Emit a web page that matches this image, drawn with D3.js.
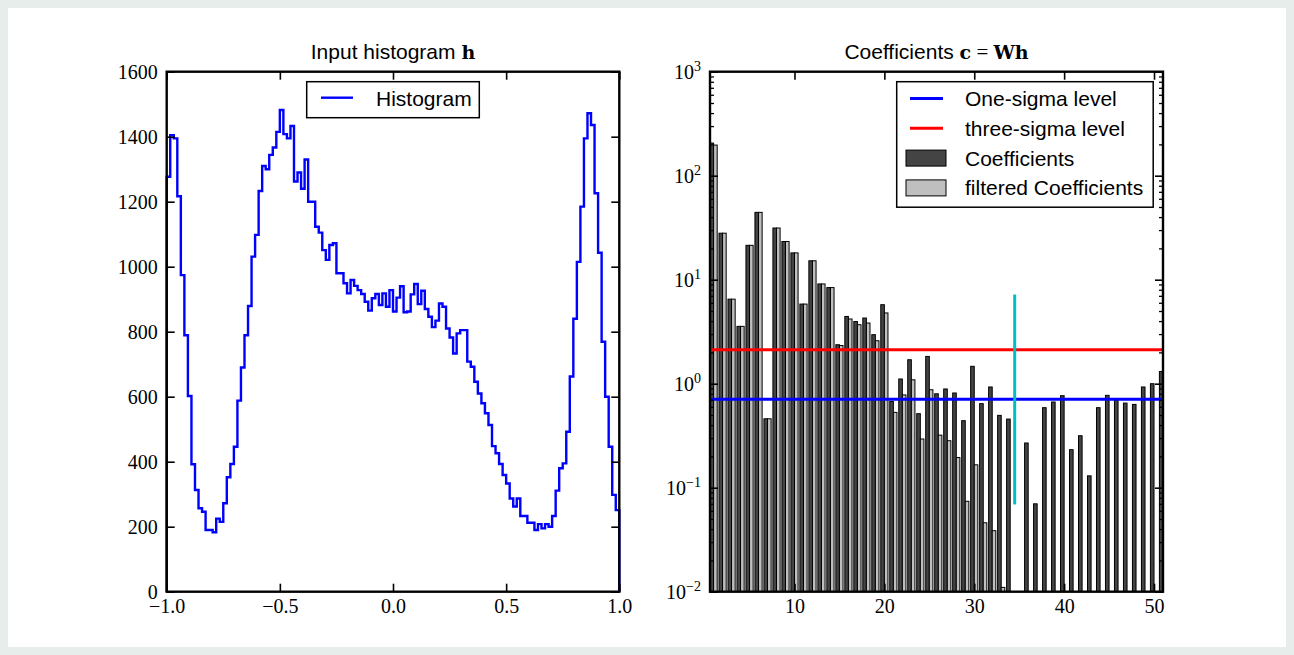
<!DOCTYPE html>
<html>
<head>
<meta charset="utf-8">
<script src="https://cdn.jsdelivr.net/npm/d3@7"></script>
<style>
  html, body { margin: 0; padding: 0; background: #e7edeb; }
  #card { position: absolute; left: 8px; top: 8px; width: 1278px; height: 639px; background: #ffffff; }
  svg { position: absolute; left: 0; top: 0; }
  .sans { font-family: "Liberation Sans", Arial, sans-serif; }
  .serif { font-family: "Liberation Serif", "DejaVu Serif", serif; }
  .math { font-family: "DejaVu Serif", "Liberation Serif", serif; }
</style>
</head>
<body>
<div id="card"></div>
<svg id="chart" width="1294" height="655"></svg>
<script>
// ---- Input histogram: 128 equal bins on [-1, 1] ----
const histRange = [-1, 1];
const histBinCount = 128;
const histCounts = [
  1277, 1405, 1395, 1217, 974, 789, 602, 392, 313, 257, 246, 190, 190, 183, 225, 215,
  272, 352, 393, 446, 588, 690, 789, 879, 1031, 1098, 1233, 1310, 1300, 1344, 1367, 1415,
  1482, 1408, 1395, 1433, 1262, 1290, 1240, 1330, 1200, 1200, 1123, 1105, 1051, 1021, 1067, 1072,
  980, 980, 949, 918, 959, 941, 928, 916, 892, 865, 903, 916, 882, 918, 877, 928,
  862, 905, 940, 860, 862, 915, 947, 885, 926, 870, 846, 814, 834, 887, 877, 810,
  782, 733, 795, 805, 805, 708, 692, 646, 610, 580, 549, 513, 448, 426, 393, 359,
  333, 287, 262, 287, 233, 233, 212, 212, 190, 208, 195, 208, 200, 233, 311, 380,
  395, 492, 662, 840, 1015, 1185, 1395, 1472, 1436, 1226, 1043, 769, 600, 446, 298, 251
];
const histXTicks = [-1, -0.5, 0, 0.5, 1];
const histYTicks = [0, 200, 400, 600, 800, 1000, 1200, 1400, 1600];

// ---- Wavelet coefficients (index 1..51) ----
const coefIndex = d3.range(1, 52);
const coefValues = [
  206, 28, 6.5, 3.56, 21.4, 44.4, 0.46, 31.4, 23.3, 18.1, 5.83, 15.2, 9.1, 8.4, 2.37, 4.43,
  3.96, 4.28, 2.96, 5.75, 0.676, 1.11, 1.70, 0.515, 1.83, 0.80, 0.89, 0.814, 0.441, 1.47, 0.643, 0.93,
  0.496, 0.457, 0, 0.269, 0.070, 0.588, 0.667, 0.767, 0.232, 0.316, 0.130, 0.588, 0.773, 0.70, 0.651, 0.632,
  0.93, 1.0, 1.31
];
const filteredValues = [
  197, 28, 6.5, 3.56, 21.4, 44.4, 0.46, 31.4, 23.3, 18.1, 5.83, 15.2, 9.1, 8.4, 2.33, 4.19,
  3.69, 3.83, 2.59, 4.79, 0.53, 0.78, 1.09, 0.294, 0.875, 0.32, 0.283, 0.195, 0.074, 0.166, 0.046, 0.0386,
  0.011, 0, 0, 0, 0, 0, 0, 0, 0, 0, 0, 0, 0, 0, 0, 0,
  0, 0, 0
];
const oneSigma = 0.707;
const threeSigma = 2.121;
const markerX = 34.5;
const markerSpan = [0.069, 7.2];
const coefXTicks = [10, 20, 30, 40, 50];
const coefDecades = [-2, -1, 0, 1, 2, 3];

const svg = d3.select("#chart");
const plotTop = 71.7, plotBottom = 591.7;
const leftBox = { x0: 166.7, x1: 619.3 };
const rightBox = { x0: 710, x1: 1163 };

const defs = svg.append("defs");
function clip(id, box) {
  defs.append("clipPath").attr("id", id)
    .append("rect").attr("x", box.x0).attr("y", plotTop)
    .attr("width", box.x1 - box.x0).attr("height", plotBottom - plotTop);
}
clip("clipL", leftBox);
clip("clipR", rightBox);

function styleAxis(g, width) {
  g.select(".domain").remove();
  g.selectAll(".tick line").attr("stroke", "#000").attr("stroke-width", width || 1.6);
  g.selectAll("text").attr("fill", "#000");
}
const serifFont = "Liberation Serif, DejaVu Serif, serif";

// ================= Left panel =================
const xH = d3.scaleLinear().domain(histRange).range([leftBox.x0, leftBox.x1]);
const yH = d3.scaleLinear().domain([0, 1600]).range([plotBottom, plotTop]);
const binEdge = k => histRange[0] + (histRange[1] - histRange[0]) * k / histBinCount;

const stepPts = [[binEdge(0), 0]];
histCounts.forEach((c, k) => stepPts.push([binEdge(k), c]));
stepPts.push([binEdge(histBinCount), histCounts[histCounts.length - 1]]);
stepPts.push([binEdge(histBinCount), 0]);

svg.append("path")
  .attr("d", d3.line().x(d => xH(d[0])).y(d => yH(d[1])).curve(d3.curveStepAfter)(stepPts))
  .attr("fill", "none").attr("stroke", "#0000ff").attr("stroke-width", 2.4)
  .attr("stroke-linejoin", "miter");

const gLB = svg.append("g").attr("transform", `translate(0,${plotBottom})`)
  .call(d3.axisBottom(xH).tickValues(histXTicks).tickSize(-8).tickPadding(7).tickFormat(d3.format(".1f")));
const gLT = svg.append("g").attr("transform", `translate(0,${plotTop})`)
  .call(d3.axisTop(xH).tickValues(histXTicks).tickSize(-8).tickFormat(""));
const gLL = svg.append("g").attr("transform", `translate(${leftBox.x0},0)`)
  .call(d3.axisLeft(yH).tickValues(histYTicks).tickSize(-8).tickPadding(9).tickFormat(d3.format("d")));
const gLR = svg.append("g").attr("transform", `translate(${leftBox.x1},0)`)
  .call(d3.axisRight(yH).tickValues(histYTicks).tickSize(-8).tickFormat(""));
[gLB, gLT, gLL, gLR].forEach(g => styleAxis(g));
[gLB, gLL].forEach(g => g.selectAll("text").attr("font-size", 20).attr("font-family", serifFont));

svg.append("rect").attr("x", leftBox.x0).attr("y", plotTop)
  .attr("width", leftBox.x1 - leftBox.x0).attr("height", plotBottom - plotTop)
  .attr("fill", "none").attr("stroke", "#000").attr("stroke-width", 2.4);

// title
const tL = svg.append("text").attr("x", (leftBox.x0 + leftBox.x1) / 2).attr("y", 59)
  .attr("text-anchor", "middle").attr("font-size", 21).attr("class", "sans");
tL.append("tspan").text("Input histogram ");
tL.append("tspan").attr("class", "math").attr("font-size", 19).attr("font-weight", "bold").text("h");

// legend
const lgL = svg.append("g");
lgL.append("rect").attr("x", 306.7).attr("y", 81.7).attr("width", 172.6).attr("height", 36)
  .attr("fill", "#fff").attr("stroke", "#000").attr("stroke-width", 1.5);
lgL.append("line").attr("x1", 321).attr("x2", 353).attr("y1", 97.7).attr("y2", 97.7)
  .attr("stroke", "#0000ff").attr("stroke-width", 2.4);
lgL.append("text").attr("x", 376).attr("y", 105.5).attr("font-size", 21).attr("class", "sans").text("Histogram");

// ================= Right panel =================
const xC = d3.scaleLinear().domain([0.6, 51]).range([rightBox.x0, rightBox.x1]);
const yC = d3.scaleLog().domain([1e-2, 1e3]).range([plotBottom, plotTop]);
const barW = 0.4;

const bars = svg.append("g").attr("clip-path", "url(#clipR)");
const coefData = coefIndex.map((i, j) => ({ i, c: coefValues[j], f: filteredValues[j] }));

bars.selectAll("rect.coef").data(coefData.filter(d => d.c > 0)).join("rect")
  .attr("class", "coef")
  .attr("x", d => xC(d.i - barW)).attr("width", d => xC(d.i) - xC(d.i - barW))
  .attr("y", d => yC(d.c)).attr("height", d => yC(1e-2) - yC(d.c))
  .attr("fill", "#444444").attr("stroke", "#000").attr("stroke-width", 1);

bars.selectAll("rect.filt").data(coefData.filter(d => d.f > 0)).join("rect")
  .attr("class", "filt")
  .attr("x", d => xC(d.i)).attr("width", d => xC(d.i + barW) - xC(d.i))
  .attr("y", d => yC(d.f)).attr("height", d => yC(1e-2) - yC(d.f))
  .attr("fill", "#bfbfbf").attr("stroke", "#000").attr("stroke-width", 1);

// noise levels
[[oneSigma, "#0000ff"], [threeSigma, "#ff0000"]].forEach(([v, col]) => {
  bars.append("line").attr("x1", rightBox.x0).attr("x2", rightBox.x1)
    .attr("y1", yC(v)).attr("y2", yC(v)).attr("stroke", col).attr("stroke-width", 3);
});
bars.append("line").attr("x1", xC(markerX)).attr("x2", xC(markerX))
  .attr("y1", yC(markerSpan[1])).attr("y2", yC(markerSpan[0]))
  .attr("stroke", "#00bfbf").attr("stroke-width", 3);

// axes
const majors = coefDecades.map(d => Math.pow(10, d));
const minors = [];
coefDecades.slice(0, -1).forEach(d => { for (let m = 2; m <= 9; m++) minors.push(m * Math.pow(10, d)); });

const gRB = svg.append("g").attr("transform", `translate(0,${plotBottom})`)
  .call(d3.axisBottom(xC).tickValues(coefXTicks).tickSize(-8).tickPadding(7).tickFormat(d3.format("d")));
const gRT = svg.append("g").attr("transform", `translate(0,${plotTop})`)
  .call(d3.axisTop(xC).tickValues(coefXTicks).tickSize(-8).tickFormat(""));
const gRL = svg.append("g").attr("transform", `translate(${rightBox.x0},0)`)
  .call(d3.axisLeft(yC).tickValues(majors).tickSize(-8).tickFormat(""));
const gRLm = svg.append("g").attr("transform", `translate(${rightBox.x0},0)`)
  .call(d3.axisLeft(yC).tickValues(minors).tickSize(-4).tickFormat(""));
const gRR = svg.append("g").attr("transform", `translate(${rightBox.x1},0)`)
  .call(d3.axisRight(yC).tickValues(majors).tickSize(-8).tickFormat(""));
const gRRm = svg.append("g").attr("transform", `translate(${rightBox.x1},0)`)
  .call(d3.axisRight(yC).tickValues(minors).tickSize(-4).tickFormat(""));
[gRB, gRT, gRL, gRR].forEach(g => styleAxis(g));
[gRLm, gRRm].forEach(g => styleAxis(g, 1.3));
gRB.selectAll("text").attr("font-size", 20).attr("font-family", serifFont);

// log tick labels as 10^n
const yLab = svg.append("g").attr("class", "serif");
coefDecades.forEach(d => {
  const t = yLab.append("text").attr("x", 701).attr("y", yC(Math.pow(10, d)) + 7.3)
    .attr("text-anchor", "end").attr("font-size", 20);
  t.append("tspan").text("10");
  t.append("tspan").attr("font-size", 14).attr("dy", -8.5).text(d < 0 ? "\u2212" + (-d) : String(d));
});

svg.append("rect").attr("x", rightBox.x0).attr("y", plotTop)
  .attr("width", rightBox.x1 - rightBox.x0).attr("height", plotBottom - plotTop)
  .attr("fill", "none").attr("stroke", "#000").attr("stroke-width", 2.4);

// title
const tR = svg.append("text").attr("x", (rightBox.x0 + rightBox.x1) / 2).attr("y", 59)
  .attr("text-anchor", "middle").attr("font-size", 21).attr("class", "sans");
tR.append("tspan").text("Coefficients ");
tR.append("tspan").attr("class", "math").attr("font-size", 19).attr("font-weight", "bold").text("c");
tR.append("tspan").attr("class", "serif").attr("font-size", 21).text(" = ");
tR.append("tspan").attr("class", "math").attr("font-size", 19).attr("font-weight", "bold").text("Wh");

// legend
const legendItems = [
  { label: "One-sigma level", kind: "line", color: "#0000ff" },
  { label: "three-sigma level", kind: "line", color: "#ff0000" },
  { label: "Coefficients", kind: "box", color: "#444444" },
  { label: "filtered Coefficients", kind: "box", color: "#bfbfbf" }
];
const lgR = svg.append("g");
lgR.append("rect").attr("x", 896.7).attr("y", 81.7).attr("width", 256.5).attr("height", 125.5)
  .attr("fill", "#fff").attr("stroke", "#000").attr("stroke-width", 1.5);
legendItems.forEach((it, k) => {
  const cy = 98.5 + k * 29.8;
  if (it.kind === "line") {
    lgR.append("line").attr("x1", 910).attr("x2", 943).attr("y1", cy).attr("y2", cy)
      .attr("stroke", it.color).attr("stroke-width", 3);
  } else {
    lgR.append("rect").attr("x", 906).attr("y", cy - 8).attr("width", 40).attr("height", 16)
      .attr("fill", it.color).attr("stroke", "#000").attr("stroke-width", 1);
  }
  lgR.append("text").attr("x", 965).attr("y", cy + 7.5).attr("font-size", 21).attr("class", "sans").text(it.label);
});
</script>
</body>
</html>
